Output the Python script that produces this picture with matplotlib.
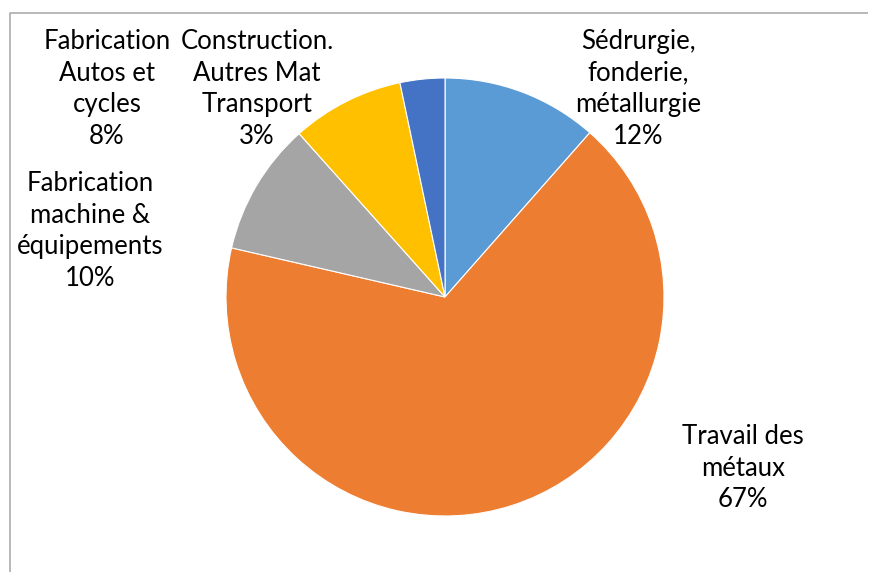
import matplotlib.pyplot as plt

# ── données ───────────────────────────────────────────────
labels = ['Sédrurgie,\nfonderie,\nmétallurgie', 'Travail des\nmétaux',
          'Fabrication\nmachine &\néquipements', 'Fabrication\nAutos et\ncycles',
          'Construction.\nAutres Mat\nTransport']
values = [11.5, 67.1, 9.8, 8.3, 3.3]
colors = ['#5B9BD5', '#ED7D31', '#A5A5A5', '#FFC000', '#4472C4']

# positions des étiquettes (pixels, origine en bas à gauche)
label_xy = [(638, 483), (743, 104), (90, 341), (107, 483), (257, 483)]

W, H = 869, 572
fig = plt.figure(figsize=(W / 100, H / 100), dpi=100)
ax = fig.add_axes([0, 0, 1, 1])

ax.pie(values, colors=colors, startangle=90, counterclock=False,
       center=(445, H - 297), radius=219, frame=True,
       wedgeprops=dict(edgecolor='white', linewidth=0.8))
ax.set_xlim(0, W)
ax.set_ylim(0, H)
ax.set_aspect('equal')
ax.axis('off')

total = sum(values)
for lab, v, (x, y) in zip(labels, values, label_xy):
    ax.text(x, y, f'{lab}\n{round(v / total * 100):.0f}%', ha='center', va='center',
            fontsize=18.5, family='Lato', linespacing=1.33, color='black')

# bordure de la zone graphique
ax.plot([9.5, 9.5, 868], [0, H - 13, H - 13], color='#ABABAB', lw=1.2,
        solid_capstyle='butt')

plt.savefig('out.png', dpi=100)
